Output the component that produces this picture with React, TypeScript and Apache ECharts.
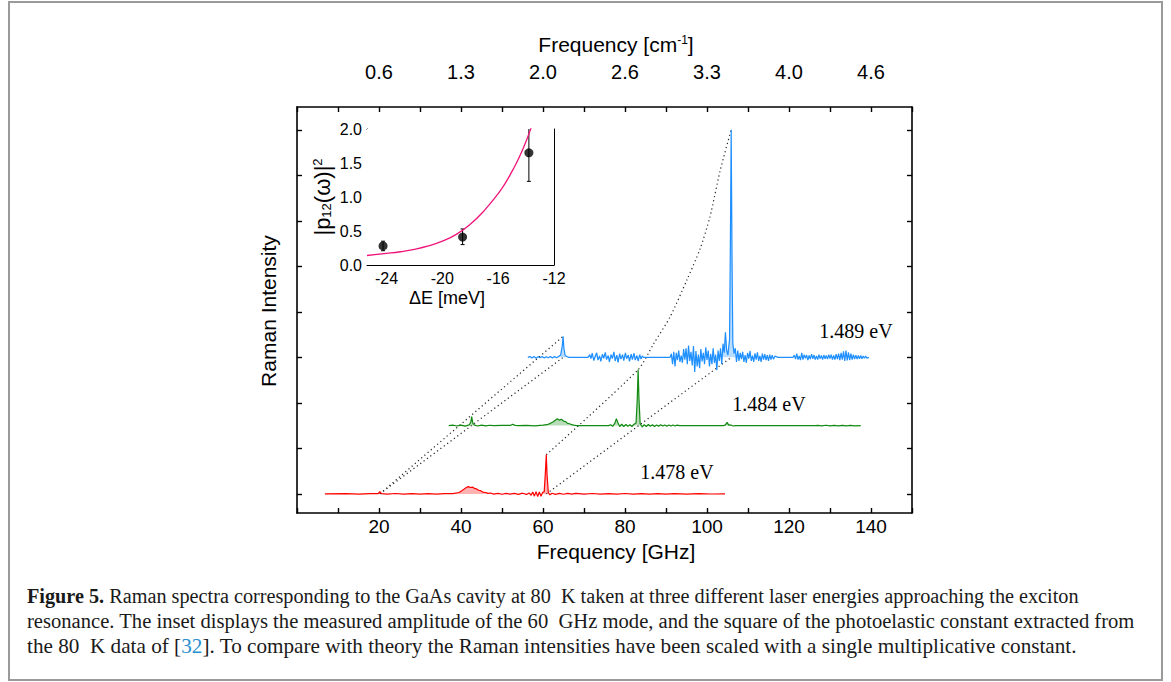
import React, { useEffect, useRef } from 'react';
import * as echarts from 'echarts';

// ---------- data ----------
const ghzLabelTicks = [20, 40, 60, 80, 100, 120, 140];
const cmTickLabels = ['0.6', '1.3', '2.0', '2.6', '3.3', '4.0', '4.6'];
const intensityTicks = [0, 1, 2, 3, 4, 5, 6, 7, 8];
const laserEnergies = ['1.478 eV', '1.484 eV', '1.489 eV'];
const spectrumOffsets = [0, 1.5, 3];
const spectrumColors = ['#ff0000', '#118a11', '#1e8fff'];

// spectra: [frequency GHz, Raman intensity above its own baseline]
const spectrum1478: number[][] = [
  [6.8, 0], [12, 0.005], [15, -0.004], [18, 0.006], [19.8, 0.004], [20.2, 0.05], [20.6, 0.005], [22, -0.005],
  [24, 0.008], [26, -0.006], [28, 0.006], [30, -0.004], [32, 0.005], [34, -0.005], [36, 0.006], [38, 0.004],
  [39.5, 0.03], [40.2, 0.07], [40.8, 0.11], [41.3, 0.14], [41.8, 0.16], [42.3, 0.14], [42.8, 0.15], [43.3, 0.12],
  [43.8, 0.11], [44.3, 0.08], [44.8, 0.07], [45.3, 0.04], [46, 0.03], [46.6, 0.01], [47.2, 0.02], [48, -0.005],
  [49, 0.012], [50, -0.008], [51, 0.01], [52, -0.006], [53, 0.012], [54, -0.01], [55, 0.015], [56, -0.012],
  [56.6, 0.02], [57.1, -0.03], [57.5, 0.04], [57.9, -0.05], [58.3, 0.05], [58.7, -0.06], [59.1, 0.04], [59.5, -0.05],
  [59.9, 0.03], [60.3, 0.05], [60.6, 0.5], [60.8, 0.86], [61.0, 0.4], [61.3, 0.03], [61.7, -0.02], [62.2, 0.015],
  [63, -0.01], [64, 0.012], [65, -0.008], [66, 0.01], [67, -0.006], [68, 0.01], [70, -0.006], [72, 0.008],
  [74, -0.005], [76, 0.006], [78, -0.006], [80, 0.008], [82, -0.005], [84, 0.006], [86, -0.004], [88, 0.005],
  [90, -0.005], [92, 0.004], [95, -0.004], [98, 0.005], [101, -0.003], [104.4, 0],
];

const spectrum1484: number[][] = [
  [37, 0], [38, 0.01], [39, -0.008], [40, 0.012], [41, -0.01], [42, 0.015], [42.4, 0.08], [42.6, 0.2],
  [42.9, 0.05], [43.3, 0.01], [44, -0.008], [45, 0.01], [46, -0.006], [47, 0.008], [48, 0], [50, 0.005],
  [52, 0.003], [52.6, 0.03], [53.2, 0.005], [54, 0], [56, 0.006], [58, -0.005], [60, 0.01], [61, 0.02],
  [61.8, 0.05], [62.4, 0.08], [63, 0.12], [63.5, 0.15], [64, 0.12], [64.5, 0.14], [65, 0.1], [65.5, 0.09],
  [66, 0.05], [66.5, 0.04], [67, 0.02], [67.5, 0.01], [68.2, 0], [76, 0], [76.5, 0.02], [77, -0.015],
  [77.5, 0.05], [77.9, 0.15], [78.3, 0.06], [78.7, -0.02], [79.2, 0.03], [79.7, -0.02], [80.2, 0.025], [80.7, -0.015],
  [81.2, 0.02], [81.7, -0.02], [82.2, 0.03], [82.7, 0.06], [83.0, 0.6], [83.2, 1.23], [83.4, 0.6], [83.7, 0.04],
  [84.2, -0.03], [84.7, 0.02], [85.2, -0.02], [85.7, 0.025], [86.2, -0.015], [86.7, 0.02], [87.2, -0.02], [87.7, 0.015],
  [88.2, -0.015], [88.7, 0.02], [89.2, -0.01], [89.7, 0.015], [90.2, -0.012], [90.7, 0.012], [91.2, -0.01], [91.7, 0.015],
  [92.2, -0.01], [92.7, 0.01], [93.3, 0], [104, 0], [104.5, 0.015], [104.9, 0.07], [105.3, 0.01], [105.8, 0.015],
  [106.4, -0.008], [107, 0], [126.5, 0], [127, 0.006], [128, -0.005], [129, 0.008], [130, -0.004], [131, 0.006],
  [132, -0.005], [133, 0.006], [134, -0.004], [135, 0.005], [136, -0.004], [137.5, 0],
];

const spectrum1489: number[][] = [
  [56.3, 0], [56.8, 0.02], [57.3, -0.015], [57.8, 0.02], [58.3, -0.02], [58.8, 0.015], [59.3, -0.01], [59.8, 0.02],
  [60.3, -0.015], [60.8, 0.015], [61.3, -0.01], [61.8, 0.02], [62.3, -0.015], [62.8, 0.02], [63.3, -0.01], [63.8, 0.02],
  [64.3, 0.05], [64.7, 0.25], [64.9, 0.46], [65.1, 0.2], [65.4, 0.04], [65.8, 0.02], [66.3, 0], [71, 0],
  [71.4, 0.06], [71.7, -0.03], [72.0, 0.09], [72.4, -0.07], [72.8, 0.04], [73.1, 0.1], [73.4, -0.06], [73.8, 0.03],
  [74.1, -0.09], [74.5, 0.07], [74.8, -0.02], [75.2, 0.11], [75.5, -0.05], [75.9, 0.04], [76.2, -0.1], [76.6, 0.06],
  [76.9, -0.03], [77.3, 0.12], [77.6, -0.08], [78.0, 0.05], [78.3, -0.11], [78.7, 0.08], [79.0, -0.04], [79.4, 0.06],
  [79.7, -0.07], [80.1, 0.1], [80.4, -0.03], [80.8, 0.05], [81.1, -0.09], [81.5, 0.07], [81.8, -0.05], [82.2, 0.09],
  [82.5, -0.06], [82.9, 0.04], [83.2, -0.08], [83.6, 0.06], [83.9, -0.04], [84.2, 0.03], [84.5, 0], [91, 0],
  [91.3, 0.08], [91.6, -0.15], [91.9, 0.12], [92.2, -0.2], [92.5, 0.1], [92.8, -0.06], [93.1, 0.15], [93.4, -0.1],
  [93.7, 0.04], [94, -0.12], [94.3, 0.18], [94.6, -0.05], [94.9, 0.2], [95.2, -0.15], [95.5, 0.26], [95.8, -0.08],
  [96.1, 0.12], [96.4, -0.18], [96.7, 0.25], [97, -0.32], [97.3, 0.14], [97.6, -0.2], [97.9, 0.06], [98.2, -0.24],
  [98.5, 0.18], [98.8, -0.09], [99.1, 0.1], [99.4, -0.15], [99.7, 0.22], [100, -0.06], [100.3, 0.15], [100.6, -0.2],
  [100.9, 0.08], [101.2, -0.15], [101.5, 0.2], [101.8, -0.12], [102.1, 0.06], [102.4, -0.28], [102.7, 0.15], [103, -0.08],
  [103.3, 0.2], [103.6, -0.15], [103.9, 0.3], [104.2, 0.1], [104.5, 0.55], [104.8, 0.15], [105.1, 0.05], [105.5, 0.4],
  [105.7, 2.5], [105.9, 5.0], [106.1, 2.2], [106.3, 0.3], [106.6, 0.08], [106.9, 0.2], [107.2, -0.1], [107.5, 0.15],
  [107.8, -0.08], [108.1, 0.1], [108.4, -0.04], [108.7, 0.12], [109, -0.1], [109.3, 0.05], [109.6, -0.12], [109.9, 0.1],
  [110.2, -0.03], [110.5, 0.14], [110.8, -0.08], [111.1, 0.04], [111.4, -0.1], [111.7, 0.09], [112, -0.05], [112.3, 0.11],
  [112.6, -0.08], [112.9, 0.03], [113.2, -0.1], [113.5, 0.08], [113.8, -0.05], [114.1, 0.07], [114.4, -0.06], [114.7, 0.05],
  [115, -0.08], [115.3, 0.06], [115.6, -0.05], [115.9, 0.05], [116.2, -0.04], [116.6, 0.03], [117.3, 0], [121, 0],
  [121.3, 0.05], [121.6, -0.04], [121.9, 0.08], [122.2, -0.05], [122.5, 0.03], [122.8, -0.06], [123.1, 0.1], [123.4, -0.05],
  [123.7, 0.06], [124, -0.02], [124.3, 0.05], [124.6, -0.06], [124.9, 0.04], [125.2, -0.04], [125.5, 0.07], [125.8, -0.03],
  [126.1, 0.05], [126.4, -0.05], [126.7, 0.03], [127, -0.05], [127.3, 0.06], [127.6, -0.03], [127.9, 0.04], [128.2, -0.05],
  [128.5, 0.05], [128.8, -0.03], [129.1, 0.04], [129.4, -0.04], [129.7, 0.06], [130, -0.03], [130.3, 0.06], [130.6, -0.05],
  [130.9, 0.04], [131.2, -0.05], [131.5, 0.07], [131.8, -0.04], [132.1, 0.08], [132.4, -0.06], [132.7, 0.1], [133, -0.05],
  [133.3, 0.13], [133.6, -0.08], [133.9, 0.15], [134.2, -0.07], [134.5, 0.11], [134.8, -0.06], [135.1, 0.08], [135.4, -0.05],
  [135.7, 0.06], [136, -0.04], [136.3, 0.05], [136.6, -0.04], [136.9, 0.04], [137.2, -0.03], [137.5, 0.04], [137.8, -0.03],
  [138.1, 0.03], [138.4, -0.02], [138.7, 0.03], [139, -0.02], [139.5, 0],
];

// dotted guide lines (absolute plotted intensity)
const guideLowPeak: number[][] = [[20.2, 0], [64.9, 3.46]];
const guideLowBase: number[][] = [[20.2, 0], [64.9, 3.0]];
const guideHighBase: number[][] = [[60.8, 0], [105.9, 3.0]];
const guideHighPeak: number[][] = [
  [60.8, 0.86], [83.2, 2.73], [87, 3.3], [91, 3.89], [95.1, 4.7], [98.3, 5.38], [100.7, 6.08], [103.2, 7.1], [105.9, 8.0],
];

// inset
const insetXTicks = [-24, -22, -20, -18, -16, -14, -12];
const insetXLabels = [-24, -20, -16, -12];
const insetPoints: number[][] = [[-24.25, 0.28], [-18.55, 0.41], [-13.8, 1.65]];
const insetErrors: number[][] = [[-24.25, 0.21, 0.35], [-18.55, 0.3, 0.53], [-13.8, 1.23, 2.1]];
const insetTheory: number[][] = [
  [-25.4, 0.14], [-24, 0.17], [-23, 0.195], [-22, 0.23], [-21, 0.28], [-20, 0.35], [-19, 0.45], [-18, 0.6],
  [-17, 0.8], [-16, 1.05], [-15.5, 1.2], [-15, 1.38], [-14.5, 1.58], [-14, 1.82], [-13.5, 2.1],
];

const captionLines = [
  '{b|Figure 5.} Raman spectra corresponding to the GaAs cavity at 80\u00a0 K taken at three different laser energies approaching the exciton',
  'resonance. The inset displays the measured amplitude of the 60\u00a0 GHz mode, and the square of the photoelastic constant extracted from',
  'the 80\u00a0 K data of [{c|32}]. To compare with theory the Raman intensities have been scaled with a single multiplicative constant.',
];

const SANS = '"Liberation Sans", Arial, sans-serif';
const SERIF = '"Liberation Serif", "Times New Roman", serif';

function buildOption() {
  const spectra = [spectrum1478, spectrum1484, spectrum1489];
  const spectrumSeries = spectra.map((s, i) => ({
    type: 'line',
    xAxisIndex: 0,
    yAxisIndex: 0,
    symbol: 'none',
    data: s.map((p) => [p[0], p[1] + spectrumOffsets[i]]),
    lineStyle: { color: spectrumColors[i], width: 1.2 },
    areaStyle: { origin: spectrumOffsets[i], color: spectrumColors[i], opacity: 0.3 },
    z: 3,
  }));
  const guides = [guideLowPeak, guideLowBase, guideHighBase, guideHighPeak].map((g, i) => ({
    type: 'line',
    xAxisIndex: 0,
    yAxisIndex: 0,
    symbol: 'none',
    smooth: i === 3 ? 0.25 : false,
    data: g,
    lineStyle: { color: '#222', width: 1.2, type: [1.2, 3] },
    z: 2,
  }));

  const mainAxisLine = { show: true, onZero: false, lineStyle: { color: '#000', width: 1.6 } };
  const mainTick = { show: true, inside: true, length: 5, lineStyle: { color: '#000', width: 1.4 } };
  const insetAxisLine = { show: true, onZero: false, lineStyle: { color: '#000', width: 1 } };
  const insetTick = { show: true, inside: true, length: 4, lineStyle: { color: '#000', width: 1 } };

  return {
    animation: false,
    backgroundColor: '#ffffff',
    grid: [
      { left: 297, top: 107, width: 615, height: 406, show: false },
      { left: 367, top: 129, width: 187, height: 136, show: true, backgroundColor: '#ffffff', borderWidth: 0, z: 5 },
    ],
    xAxis: [
      {
        gridIndex: 0, type: 'value', position: 'bottom', min: 0, max: 150, interval: 10,
        axisLine: mainAxisLine, axisTick: mainTick, splitLine: { show: false },
        axisLabel: {
          margin: 4, color: '#000', fontFamily: SANS, fontSize: 19,
          formatter: (v: number) => (ghzLabelTicks.indexOf(v) >= 0 ? String(v) : ''),
        },
      },
      {
        gridIndex: 0, type: 'value', position: 'top', min: 0, max: 150, interval: 10,
        axisLine: mainAxisLine, axisTick: mainTick, splitLine: { show: false },
        axisLabel: {
          margin: 25, color: '#000', fontFamily: SANS, fontSize: 20,
          formatter: (v: number) => {
            const k = ghzLabelTicks.indexOf(v);
            return k >= 0 ? cmTickLabels[k] : '';
          },
        },
      },
      {
        gridIndex: 1, type: 'value', position: 'bottom', min: -25.4, max: -12,
        axisLine: insetAxisLine, splitLine: { show: false },
        axisTick: { ...insetTick, customValues: insetXTicks },
        axisLabel: { customValues: insetXLabels, margin: 5, color: '#000', fontFamily: SANS, fontSize: 16 },
      },
      {
        gridIndex: 1, type: 'value', position: 'top', min: -25.4, max: -12,
        axisLine: insetAxisLine, splitLine: { show: false },
        axisTick: { ...insetTick, customValues: insetXTicks },
        axisLabel: { show: false },
      },
    ],
    yAxis: [
      {
        gridIndex: 0, type: 'value', position: 'left', min: -0.42, max: 8.5,
        axisLine: mainAxisLine, splitLine: { show: false },
        axisTick: { ...mainTick, customValues: intensityTicks },
        axisLabel: { show: false },
      },
      {
        gridIndex: 0, type: 'value', position: 'right', min: -0.42, max: 8.5,
        axisLine: mainAxisLine, splitLine: { show: false },
        axisTick: { ...mainTick, customValues: intensityTicks },
        axisLabel: { show: false },
      },
      {
        gridIndex: 1, type: 'value', position: 'left', min: 0, max: 2, interval: 0.5,
        axisLine: insetAxisLine, axisTick: insetTick, splitLine: { show: false },
        minorTick: { show: true, splitNumber: 2, length: 2.5, lineStyle: { color: '#000' } },
        axisLabel: { margin: 5, color: '#000', fontFamily: SANS, fontSize: 16, formatter: (v: number) => v.toFixed(1) },
      },
      {
        gridIndex: 1, type: 'value', position: 'right', min: 0, max: 2, interval: 0.5,
        axisLine: insetAxisLine, axisTick: insetTick, splitLine: { show: false },
        minorTick: { show: true, splitNumber: 2, length: 2.5, lineStyle: { color: '#000' } },
        axisLabel: { show: false },
      },
    ],
    series: [
      ...guides,
      ...spectrumSeries,
      {
        type: 'line', xAxisIndex: 2, yAxisIndex: 2, symbol: 'none', smooth: true,
        data: insetTheory, lineStyle: { color: '#f0147a', width: 1.3 }, z: 6,
      },
      {
        type: 'custom', xAxisIndex: 2, yAxisIndex: 2, clip: true, z: 6,
        data: insetErrors,
        renderItem: (_params: any, api: any) => {
          const x = api.value(0);
          const lo = api.coord([x, api.value(1)]);
          const hi = api.coord([x, api.value(2)]);
          return {
            type: 'group',
            children: [
              { type: 'line', shape: { x1: lo[0], y1: lo[1], x2: hi[0], y2: hi[1] }, style: { stroke: '#000', lineWidth: 1 } },
              { type: 'line', shape: { x1: lo[0] - 2, y1: lo[1], x2: lo[0] + 2, y2: lo[1] }, style: { stroke: '#000', lineWidth: 1 } },
              { type: 'line', shape: { x1: hi[0] - 2, y1: hi[1], x2: hi[0] + 2, y2: hi[1] }, style: { stroke: '#000', lineWidth: 1 } },
            ],
          };
        },
      },
      {
        type: 'scatter', xAxisIndex: 2, yAxisIndex: 2, symbol: 'circle', symbolSize: 9,
        itemStyle: { color: '#000' }, data: insetPoints, z: 7,
      },
    ],
    graphic: [
      { type: 'rect', shape: { x: 9, y: 2, width: 1153, height: 678 }, style: { fill: 'none', stroke: '#9a9a9a', lineWidth: 2 }, z: 0 },
      {
        type: 'text', x: 616, y: 44,
        style: {
          text: 'Frequency [cm{sup|-1}]', fontFamily: SANS, fontSize: 21, fill: '#000',
          align: 'center', verticalAlign: 'middle', textAlign: 'center', textVerticalAlign: 'middle',
          rich: { sup: { fontFamily: SANS, fontSize: 12, verticalAlign: 'top', fill: '#000' } },
        },
      },
      {
        type: 'text', x: 616, y: 551,
        style: {
          text: 'Frequency [GHz]', fontFamily: SANS, fontSize: 21, fill: '#000',
          align: 'center', verticalAlign: 'middle', textAlign: 'center', textVerticalAlign: 'middle',
        },
      },
      {
        type: 'text', x: 268, y: 311, rotation: Math.PI / 2,
        style: {
          text: 'Raman Intensity', fontFamily: SANS, fontSize: 21, fill: '#000',
          align: 'center', verticalAlign: 'middle', textAlign: 'center', textVerticalAlign: 'middle',
        },
      },
      {
        type: 'text', x: 322, y: 197, rotation: Math.PI / 2, z: 10,
        style: {
          text: '|p{sub|12}(ω)|{sup|2}', fontFamily: SANS, fontSize: 22, fill: '#000',
          align: 'center', verticalAlign: 'middle', textAlign: 'center', textVerticalAlign: 'middle',
          rich: {
            sub: { fontFamily: SANS, fontSize: 13, verticalAlign: 'bottom', fill: '#000' },
            sup: { fontFamily: SANS, fontSize: 13, verticalAlign: 'top', fill: '#000' },
          },
        },
      },
      {
        type: 'text', x: 447, y: 298, z: 10,
        style: {
          text: 'ΔE [meV]', fontFamily: SANS, fontSize: 18, fill: '#000',
          align: 'center', verticalAlign: 'middle', textAlign: 'center', textVerticalAlign: 'middle',
        },
      },
      ...laserEnergies.map((t, i) => ({
        type: 'text', x: [677, 769, 856][i], y: [472, 404, 331][i],
        style: {
          text: t, fontFamily: SERIF, fontSize: 20, fill: '#000',
          align: 'center', verticalAlign: 'middle', textAlign: 'center', textVerticalAlign: 'middle',
        },
      })),
      ...captionLines.map((t, i) => ({
        type: 'text', x: 27, y: 596 + i * 25, scaleX: [1.012, 1.03, 1.06][i],
        style: {
          text: t, fontFamily: SERIF, fontSize: 20, fill: '#1a1a1a',
          align: 'left', verticalAlign: 'middle', textAlign: 'left', textVerticalAlign: 'middle',
          rich: {
            b: { fontFamily: SERIF, fontSize: 20, fontWeight: 'bold', fill: '#1a1a1a' },
            c: { fontFamily: SERIF, fontSize: 20, fill: '#2a8fd0' },
          },
        },
      })),
    ],
  };
}

export default function App() {
  const ref = useRef<HTMLDivElement>(null);
  useEffect(() => {
    if (!ref.current) return;
    const chart = echarts.init(ref.current, undefined, { renderer: 'svg' });
    chart.setOption(buildOption() as any);
    return () => chart.dispose();
  }, []);
  return <div ref={ref} style={{ position: 'absolute', left: 0, top: 0, width: 1171, height: 682 }} />;
}
